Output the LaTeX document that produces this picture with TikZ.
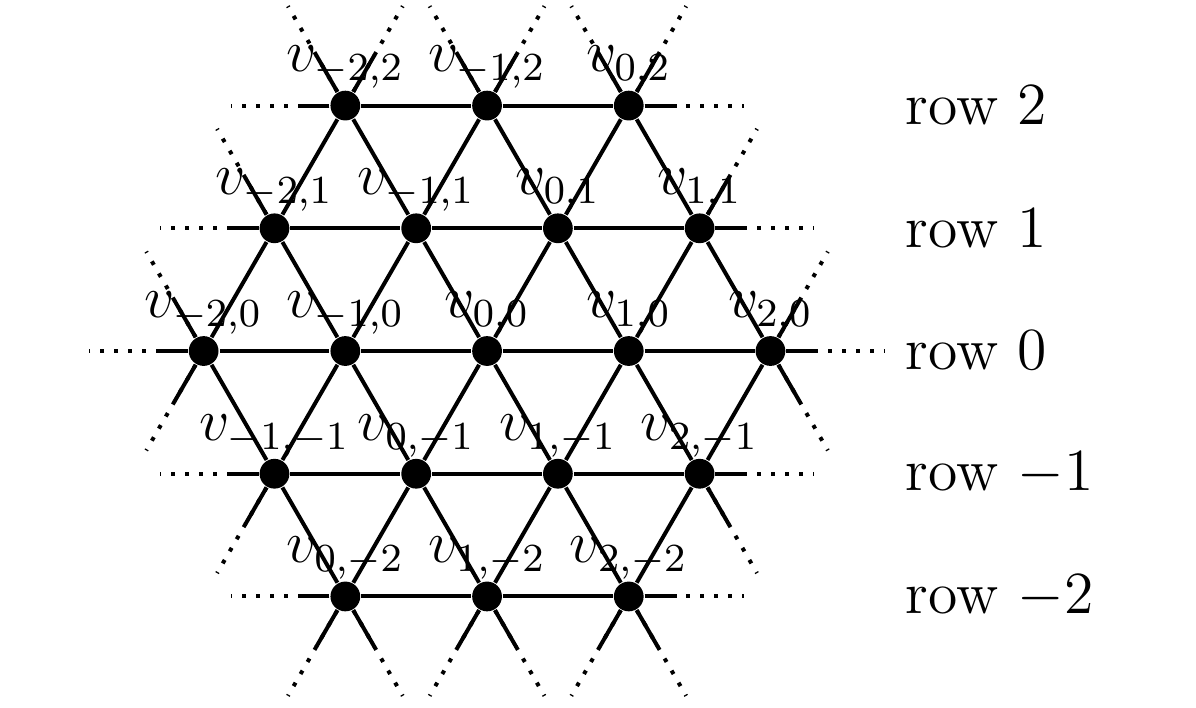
\documentclass[tikz,border=0pt]{standalone}
\usepackage{amsmath}
\usepackage{tikz}
\usetikzlibrary{calc}

\begin{document}
\begin{tikzpicture}[
        x=1cm, y=1cm,
        font=\large,
        vertex/.style={circle, fill=black, inner sep=0pt, minimum size=0.21cm},
        vlabel/.style={inner sep=0pt, label distance=0pt},
        rowlabel/.style={anchor=west},
        edge/.style={thick},
        dots/.style={thick, dotted}
    ]
        \useasboundingbox (-3.437,-2.519) rectangle (5.003,2.477);

        % Row 2
        \node (v-22) [vertex, label={[vlabel]above:$v_{-2,2}$}] at (-1, 1.732) {};
        \node (v-12) [vertex, label={[vlabel]above:$v_{-1,2}$}] at (0, 1.732) {};
        \node (v02) [vertex, label={[vlabel]above:$v_{0,2}$}] at (1, 1.732) {};

        % Row 1
        \node (v-21) [vertex, label={[vlabel]above:$v_{-2,1}$}] at (-1.5, 0.866) {};
        \node (v-11) [vertex, label={[vlabel]above:$v_{-1,1}$}] at (-0.5, 0.866) {};
        \node (v01) [vertex, label={[vlabel]above:$v_{0,1}$}] at (0.5, 0.866) {};
        \node (v11) [vertex, label={[vlabel]above:$v_{1,1}$}] at (1.5, 0.866) {};

        % Row 0
        \node (v-20) [vertex, label={[vlabel]above:$v_{-2,0}$}] at (-2, 0) {};
        \node (v-10) [vertex, label={[vlabel]above:$v_{-1,0}$}] at (-1, 0) {};
        \node (v00) [vertex, label={[vlabel]above:$v_{0,0}$}] at (0, 0) {};
        \node (v10) [vertex, label={[vlabel]above:$v_{1,0}$}] at (1, 0) {};
        \node (v20) [vertex, label={[vlabel]above:$v_{2,0}$}] at (2, 0) {};

        % Row -1
        \node (v-1-1) [vertex, label={[vlabel]above:$v_{-1,-1}$}] at (-1.5, -0.866) {};
        \node (v0-1) [vertex, label={[vlabel]above:$v_{0,-1}$}] at (-0.5, -0.866) {};
        \node (v1-1) [vertex, label={[vlabel]above:$v_{1,-1}$}] at (0.5, -0.866) {};
        \node (v2-1) [vertex, label={[vlabel]above:$v_{2,-1}$}] at (1.5, -0.866) {};

        % Row -2
        \node (v0-2) [vertex, label={[vlabel]above:$v_{0,-2}$}] at (-1, -1.732) {};
        \node (v1-2) [vertex, label={[vlabel]above:$v_{1,-2}$}] at (0, -1.732) {};
        \node (v2-2) [vertex, label={[vlabel]above:$v_{2,-2}$}] at (1, -1.732) {};

        % Row names
        \node (row2) [rowlabel] at (2.83, 1.732) {row $2$};
        \node (row1) [rowlabel] at (2.83, 0.866) {row $1$};
        \node (row0) [rowlabel] at (2.83, 0) {row $0$};
        \node (rowm1) [rowlabel] at (2.83, -0.866) {row $-1$};
        \node (rowm2) [rowlabel] at (2.83, -1.732) {row $-2$};

        % Horizontal edges
        \draw [edge] (v-22) -- (v-12) -- (v02);
        \draw [edge] (v-21) -- (v-11) -- (v01) -- (v11);
        \draw [edge] (v-20) -- (v-10) -- (v00) -- (v10) -- (v20);
        \draw [edge] (v-1-1) -- (v0-1) -- (v1-1) -- (v2-1);
        \draw [edge] (v0-2) -- (v1-2) -- (v2-2);

        % Rising edges
        \draw [edge] (v-20) -- (v-21) -- (v-22);
        \draw [edge] (v-1-1) -- (v-10) -- (v-11) -- (v-12);
        \draw [edge] (v0-2) -- (v0-1) -- (v00) -- (v01) -- (v02);
        \draw [edge] (v1-2) -- (v1-1) -- (v10) -- (v11);
        \draw [edge] (v2-2) -- (v2-1) -- (v20);

        % Falling edges
        \draw [edge] (v-20) -- (v-1-1) -- (v0-2);
        \draw [edge] (v-21) -- (v-10) -- (v0-1) -- (v1-2);
        \draw [edge] (v-22) -- (v-11) -- (v00) -- (v1-1) -- (v2-2);
        \draw [edge] (v-12) -- (v01) -- (v10) -- (v2-1);
        \draw [edge] (v02) -- (v11) -- (v20);

        % Loose ends, horizontal
        \foreach \vtx/\ang in {v-22/180, v02/0, v-21/180, v11/0, v-20/180, v20/0,
                               v-1-1/180, v2-1/0, v0-2/180, v2-2/0} {
            \draw [dots] (\vtx) -- ([shift={(\ang:0.81)}]\vtx.center);
            \draw [edge] (\vtx) -- ([shift={(\ang:0.32)}]\vtx.center);
        }

        % Loose ends, slanted
        \foreach \vtx/\ang in {v-22/60, v-22/120, v-12/60, v-12/120, v02/60, v02/120,
                               v-21/120, v11/60, v-20/120, v-20/240, v20/60, v20/300,
                               v-1-1/240, v2-1/300, v0-2/240, v0-2/300, v1-2/240, v1-2/300,
                               v2-2/240, v2-2/300} {
            \draw [dots] (\vtx) -- ([shift={(\ang:0.81)}]\vtx.center);
            \draw [edge] (\vtx) -- ([shift={(\ang:0.41)}]\vtx.center);
        }
\end{tikzpicture}
\end{document}
